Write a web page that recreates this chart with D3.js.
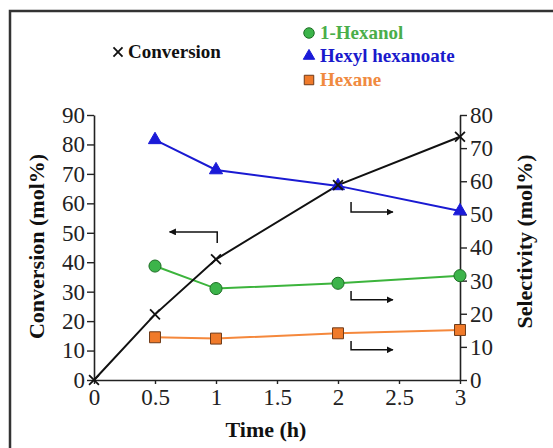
<!DOCTYPE html>
<html>
<head>
<meta charset="utf-8">
<script src="https://cdn.jsdelivr.net/npm/d3@7"></script>
<style>
  body { margin: 0; background: #fff; }
  text { font-family: "Liberation Serif", "Times New Roman", serif; }
</style>
</head>
<body>
<div id="chart"></div>
<script>
// data
const times = [0, 0.5, 1, 2, 3];
const conversion = [0, 22.3, 41.0, 66.2, 82.6];      // left axis
const selTimes = [0.5, 1, 2, 3];
const hexanol = [34.4, 27.6, 29.2, 31.5];            // right axis
const hexylHexanoate = [72.5, 63.4, 58.6, 51.0];
const hexane = [12.9, 12.5, 14.1, 15.1];

const xTicks = [0, 0.5, 1, 1.5, 2, 2.5, 3];
const leftTicks = [0, 10, 20, 30, 40, 50, 60, 70, 80, 90];
const rightTicks = [0, 10, 20, 30, 40, 50, 60, 70, 80];

// arrow hints in data units: vertical stub at x from yTop to yBend, then across to tip
const arrows = [
  { axis: "left",  x: 1.01, yTop: 46.5, yBend: 50.3, tip: 0.62 },
  { axis: "right", x: 2.107, yTop: 53.7, yBend: 50.7, tip: 2.45 },
  { axis: "right", x: 2.107, yTop: 26.9, yBend: 24.2, tip: 2.45 },
  { axis: "right", x: 2.107, yTop: 11.8, yBend: 9.1, tip: 2.45 }
];

const W = 553, H = 448;
const margin = { top: 115, right: 93, bottom: 68, left: 94 };
const width = W - margin.left - margin.right;
const height = H - margin.top - margin.bottom;

const svg = d3.select("#chart").append("svg")
    .attr("width", W)
    .attr("height", H);

// outer frame (only top and left edges show)
svg.append("rect")
    .attr("x", 10).attr("y", 11)
    .attr("width", 700).attr("height", 700)
    .attr("fill", "none")
    .attr("stroke", "#333")
    .attr("stroke-width", 2.5);

svg.append("defs").append("marker")
    .attr("id", "head")
    .attr("viewBox", "0 0 10 10")
    .attr("refX", 9).attr("refY", 5)
    .attr("markerWidth", 7).attr("markerHeight", 7)
    .attr("markerUnits", "userSpaceOnUse")
    .attr("orient", "auto")
  .append("path")
    .attr("d", "M0,0L10,5L0,10z")
    .attr("fill", "#111");

const g = svg.append("g")
    .attr("transform", "translate(" + margin.left + "," + margin.top + ")");

const x = d3.scaleLinear().domain([0, 3]).range([0, width]);
const yL = d3.scaleLinear().domain([0, 90]).range([height, 0]);
const yR = d3.scaleLinear().domain([0, 80]).range([height, 0]);

// axes
const styleAxis = sel => {
  sel.select(".domain").attr("stroke", "#222").attr("stroke-width", 1.6);
  sel.selectAll(".tick line").attr("stroke", "#222").attr("stroke-width", 1.4);
  sel.selectAll(".tick text")
      .attr("font-family", "Liberation Serif, serif")
      .attr("font-size", 23)
      .attr("fill", "#222");
};

g.append("g")
    .attr("transform", "translate(0," + height + ")")
    .call(d3.axisBottom(x).tickValues(xTicks).tickSize(4).tickSizeOuter(0).tickPadding(5)
      .tickFormat(d3.format("")))
    .call(styleAxis);

g.append("g")
    .call(d3.axisLeft(yL).tickValues(leftTicks).tickSize(7).tickSizeOuter(0).tickPadding(2))
    .call(styleAxis);

g.append("g")
    .attr("transform", "translate(" + width + ",0)")
    .call(d3.axisRight(yR).tickValues(rightTicks).tickSize(7).tickSizeOuter(0).tickPadding(3))
    .call(styleAxis);

// axis titles
g.append("text")
    .attr("x", width / 2 - 11).attr("y", height + 57)
    .attr("text-anchor", "middle")
    .attr("font-weight", "bold").attr("font-size", 22).attr("fill", "#111")
    .text("Time (h)");

g.append("text")
    .attr("transform", "translate(" + (-50) + "," + (height / 2 - 1) + ") rotate(-90)")
    .attr("text-anchor", "middle")
    .attr("font-weight", "bold").attr("font-size", 22).attr("fill", "#111")
    .text("Conversion (mol%)");

g.append("text")
    .attr("transform", "translate(" + (width + 72) + "," + (height / 2 - 6) + ") rotate(-90)")
    .attr("text-anchor", "middle")
    .attr("font-weight", "bold").attr("font-size", 22).attr("fill", "#111")
    .text("Selectivity (mol%)");

// arrows
arrows.forEach(a => {
  const ys = a.axis === "left" ? yL : yR;
  g.append("path")
      .attr("d", "M" + x(a.x) + "," + ys(a.yTop) + "L" + x(a.x) + "," + ys(a.yBend) + "L" + x(a.tip) + "," + ys(a.yBend))
      .attr("fill", "none")
      .attr("stroke", "#111")
      .attr("stroke-width", 1.5)
      .attr("marker-end", "url(#head)");
});

// series
const series = [
  { name: "1-Hexanol", t: selTimes, v: hexanol, y: yR, line: "#3cb43c", fill: "#3cb44a", stroke: "#1d6e24", sym: d3.symbolCircle, size: 115, text: "#4aae4a" },
  { name: "Hexyl hexanoate", t: selTimes, v: hexylHexanoate, y: yR, line: "#1a1ad2", fill: "#1a1ad8", stroke: "#1a1ad8", sym: d3.symbolTriangle, size: 75, text: "#1a1acc" },
  { name: "Hexane", t: selTimes, v: hexane, y: yR, line: "#f5883c", fill: "#f07a2a", stroke: "#6e3a18", sym: d3.symbolSquare, size: 120, text: "#f08a40" }
];

const lineGen = (ys) => d3.line().x(d => x(d[0])).y(d => ys(d[1]));

series.forEach(s => {
  const pts = s.t.map((t, i) => [t, s.v[i]]);
  g.append("path")
      .datum(pts)
      .attr("d", lineGen(s.y))
      .attr("fill", "none")
      .attr("stroke", s.line)
      .attr("stroke-width", 2);
});

// conversion line on top
const convPts = times.map((t, i) => [t, conversion[i]]);
g.append("path")
    .datum(convPts)
    .attr("d", lineGen(yL))
    .attr("fill", "none")
    .attr("stroke", "#111")
    .attr("stroke-width", 2);

series.forEach(s => {
  const pts = s.t.map((t, i) => [t, s.v[i]]);
  g.selectAll(null)
      .data(pts)
      .join("path")
      .attr("transform", d => "translate(" + x(d[0]) + "," + s.y(d[1]) + ")")
      .attr("d", d3.symbol().type(s.sym).size(s.size))
      .attr("fill", s.fill)
      .attr("stroke", s.stroke)
      .attr("stroke-width", 1);
});

const crossSym = d3.symbol().type(d3.symbolX).size(65);
g.selectAll(null)
    .data(convPts)
    .join("path")
    .attr("transform", d => "translate(" + x(d[0]) + "," + yL(d[1]) + ")")
    .attr("d", crossSym)
    .attr("fill", "none")
    .attr("stroke", "#111")
    .attr("stroke-width", 1.8);

// legend
svg.append("path")
    .attr("transform", "translate(118,52)")
    .attr("d", d3.symbol().type(d3.symbolX).size(55))
    .attr("fill", "none")
    .attr("stroke", "#111")
    .attr("stroke-width", 1.8);
svg.append("text")
    .attr("x", 128).attr("y", 58)
    .attr("font-weight", "bold").attr("font-size", 19).attr("fill", "#111")
    .text("Conversion");

const legY = [33, 56, 80];
series.forEach((s, i) => {
  svg.append("path")
      .attr("transform", "translate(309," + legY[i] + ")")
      .attr("d", d3.symbol().type(s.sym).size(s.size * 0.75))
      .attr("fill", s.fill)
      .attr("stroke", s.stroke)
      .attr("stroke-width", 1);
  svg.append("text")
      .attr("x", 320).attr("y", legY[i] + 6)
      .attr("font-weight", "bold").attr("font-size", 19).attr("fill", s.text)
      .text(s.name);
});
</script>
</body>
</html>
